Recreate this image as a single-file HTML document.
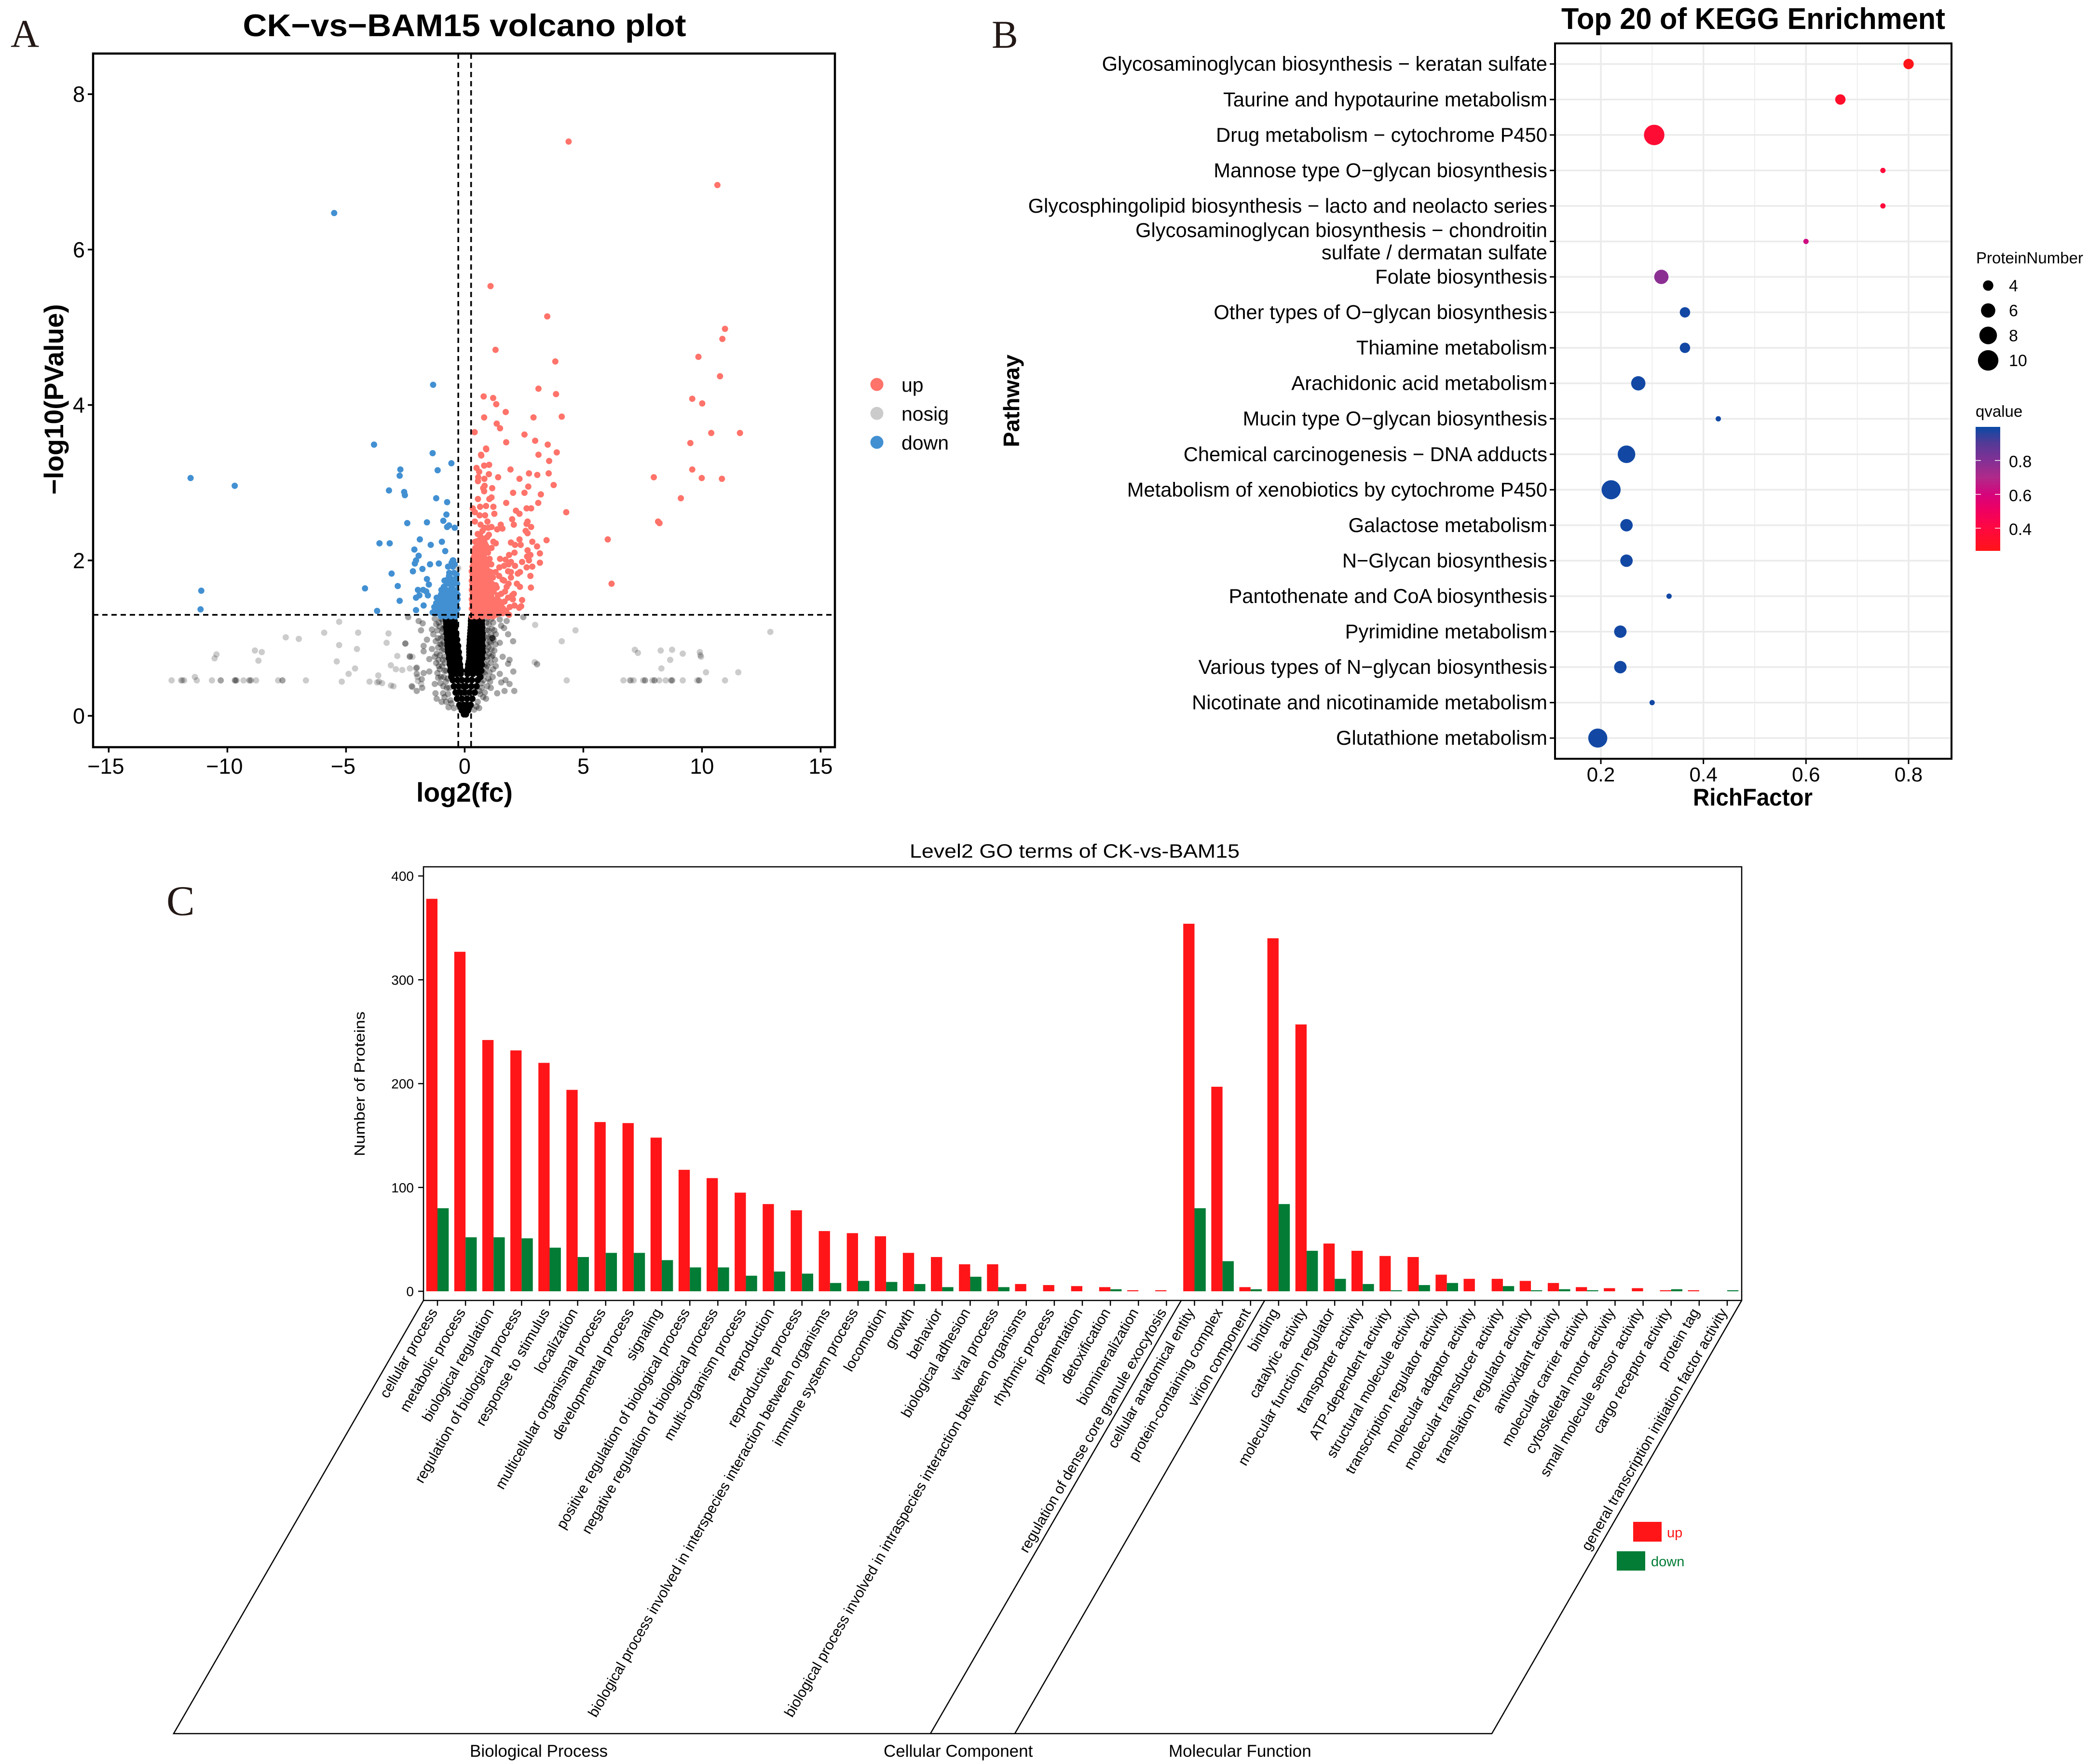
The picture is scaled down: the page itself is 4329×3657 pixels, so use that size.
<!DOCTYPE html>
<html>
<head>
<meta charset="utf-8">
<title>CK-vs-BAM15 figure</title>
<style>
html,body{margin:0;padding:0;background:#fff}
svg{display:block}
text{font-family:"Liberation Sans",sans-serif;fill:#000}
.serif{font-family:"Liberation Serif",serif;fill:#231815}
</style>
</head>
<body>
<svg id="fig" xmlns="http://www.w3.org/2000/svg" width="4329" height="3657" viewBox="0 0 4329 3657">
<defs>
<linearGradient id="qgrad" x1="0" y1="1" x2="0" y2="0">
<stop offset="0" stop-color="#ff1418"/><stop offset="0.18" stop-color="#ff0840"/><stop offset="0.32" stop-color="#f00060"/><stop offset="0.455" stop-color="#d6047c"/><stop offset="0.59" stop-color="#b02a8a"/><stop offset="0.73" stop-color="#823095"/><stop offset="0.865" stop-color="#553a96"/><stop offset="1" stop-color="#0a4aa5"/>
</linearGradient>
</defs>
<rect x="0" y="0" width="4329" height="3657" fill="#fff"/>

<text class="serif" x="22" y="97" font-size="82">A</text>
<text class="serif" x="2056" y="99" font-size="82">B</text>
<text class="serif" x="345" y="1897" font-size="88">C</text>

<g id="volcano">
<text x="963" y="75" font-size="65" font-weight="bold" text-anchor="middle" textLength="919" lengthAdjust="spacingAndGlyphs">CK−vs−BAM15 volcano plot</text>
<g id="vNosig"></g>
<g id="vUp"></g>
<g id="vDown"></g>
<g id="vThresh"></g>
<rect x="193" y="111" width="1538" height="1438" fill="none" stroke="#000" stroke-width="4.5"/>
<g id="vAxes"></g>
<text x="963" y="1662" font-size="56" font-weight="bold" text-anchor="middle" textLength="200" lengthAdjust="spacingAndGlyphs">log2(fc)</text>
<text transform="translate(131,828) rotate(-90)" font-size="56" font-weight="bold" text-anchor="middle" textLength="395" lengthAdjust="spacingAndGlyphs">−log10(PValue)</text>
<g id="vLegend"></g>
</g>

<g id="kegg">
<text x="3635" y="60" font-size="62" font-weight="bold" text-anchor="middle" textLength="796" lengthAdjust="spacingAndGlyphs">Top 20 of KEGG Enrichment</text>
<g id="kGrid"></g>
<g id="kPoints"></g>
<rect x="3224" y="90" width="822" height="1483" fill="none" stroke="#000" stroke-width="4"/>
<g id="kAxes"></g>
<text x="3634" y="1670" font-size="50" font-weight="bold" text-anchor="middle" textLength="248" lengthAdjust="spacingAndGlyphs">RichFactor</text>
<text transform="translate(2113,831) rotate(-90)" font-size="46" font-weight="bold" text-anchor="middle" textLength="192" lengthAdjust="spacingAndGlyphs">Pathway</text>
<text x="4097" y="546" font-size="33">ProteinNumber</text>
<g id="kSize"></g>
<text x="4096" y="864" font-size="33">qvalue</text>
<rect x="4096" y="885" width="51" height="257" fill="url(#qgrad)"/>
<g id="kColor"></g>
</g>

<g id="go">
<text x="2228" y="1778" font-size="40" text-anchor="middle" textLength="684" lengthAdjust="spacingAndGlyphs">Level2 GO terms of CK-vs-BAM15</text>
<g id="gBars"></g>
<rect x="878" y="1797" width="2733" height="899" fill="none" stroke="#000" stroke-width="2.5"/>
<g id="gAxes"></g>
<text transform="translate(756,2247) rotate(-90)" font-size="31" text-anchor="middle" textLength="300" lengthAdjust="spacingAndGlyphs">Number of Proteins</text>
<path d="M878 2696 L360 3594 L3093 3594 L3611 2696" fill="none" stroke="#000" stroke-width="2.5"/>
<path d="M2449 2696 L1929 3594" fill="none" stroke="#000" stroke-width="2.5"/>
<path d="M2622 2696 L2104 3594" fill="none" stroke="#000" stroke-width="2.5"/>
<text x="974" y="3642" font-size="35">Biological Process</text>
<text x="1832" y="3642" font-size="35">Cellular Component</text>
<text x="2423" y="3642" font-size="35">Molecular Function</text>
<rect x="3386" y="3155" width="59" height="41" fill="#ff1518"/>
<text x="3456" y="3187" font-size="29" style="fill:#ff1518">up</text>
<rect x="3352" y="3216" width="59" height="40" fill="#037c36"/>
<text x="3423" y="3247" font-size="29" style="fill:#037c36">down</text>
</g>
</svg>

<script>
// ---------- Volcano data (log2 fold change, -log10 p) ----------
const volcanoUp = [[4.38,7.39],[10.65,6.83],[1.09,5.53],[3.48,5.14],[10.97,4.98],[10.86,4.85],[1.3,4.71],[9.85,4.62],[3.82,4.56],[10.76,4.37],[3.11,4.21],[3.85,4.14],[.8,4.11],[1.2,4.09],[1.33,4.01],[9.59,4.08],[10.01,4.02],[1.73,3.91],[.82,3.84],[2.9,3.84],[4.09,3.85],[1.35,3.76],[1.49,3.7],[.42,3.65],[2.52,3.62],[10.39,3.64],[11.6,3.64],[1.75,3.52],[2.97,3.54],[3.5,3.49],[9.51,3.51],[.9,3.44],[3.88,3.39],[3.11,3.36],[.69,3.36],[3.56,3.28],[9.59,3.17],[7.97,3.07],[9.99,3.06],[10.84,3.05],[9.11,2.8],[8.15,2.5],[8.21,2.48],[6.03,2.27],[6.19,1.7],[4.28,2.62],
[.91,3.43],[.7,3.35],[.5,3.19],[.82,3.22],[1.03,3.23],[1.93,3.17],[2.71,3.12],[3.06,3.1],[3.54,3.12],[.61,3.14],[.57,3.07],[.56,3.02],[1.02,3.11],[.83,3.05],[1.41,3.07],[2.31,3.05],[3.75,2.97],[2.68,2.95],[1.16,2.93],[.84,2.96],[.78,2.93],[.82,2.89],[2.04,2.87],[2.52,2.87],[3.21,2.85],[1.13,2.81],[1.04,2.79],[.56,2.79],[1.75,2.74],[3.1,2.74],[1.21,2.69],[.9,2.7],[.65,2.69],[.34,2.67],[2.61,2.67],[2.8,2.67],[2.16,2.64],[2.31,2.6],[1.25,2.6],[.43,2.62],[.63,2.58],[.86,2.58],[2.0,2.53],[2.65,2.5],[.43,2.5],[.96,2.5],[2.61,2.47],[2.07,2.46],[2.8,2.43],[1.52,2.46],[1.59,2.41],[1.37,2.4],[1.13,2.43],[.84,2.42],[.67,2.46],[2.57,2.38],[2.65,2.35],[.55,2.34],[1.02,2.33],[.84,2.28],[2.31,2.27],[2.85,2.24],[3.45,2.26],[.44,2.24],[1.21,2.24],[1.31,2.22],[1.95,2.23],[2.12,2.2],[2.36,2.2],[3.05,2.18],[.9,2.19],[1.13,2.16],[.43,2.13],[2.65,2.13],[2.1,2.1],[3.17,2.09],[1.87,2.07],[2.63,2.05],[2.77,2.07],[1.49,2.02],[1.72,2.01],[1.95,1.98],[2.42,1.98],[2.71,2.0],[3.17,1.97],[2.12,1.93],[1.46,1.91],[2.85,1.92],[2.61,1.91],[1.66,1.93],[1.83,1.86],[2.33,1.85],[2.77,1.8],[1.19,1.78],[1.95,1.78],[1.66,1.74],[2.24,1.83],[2.33,1.66],[2.79,1.65],[1.31,1.68],[1.77,1.66],[2.07,1.57],[1.54,1.57],[2.42,1.49],[2.38,1.41],[2.3,1.39],[1.48,1.47],[1.83,1.52],[2.03,1.5],[1.54,1.43],[1.6,1.32],[1.87,1.3],[1.31,1.3],
[.35,1.32],[.5,1.32],[.65,1.32],[.8,1.32],[.95,1.32],[1.1,1.32],[1.25,1.32],[1.45,1.32],[.3,1.38],[.45,1.38],[.6,1.38],[.75,1.38],[.9,1.38],[1.05,1.38],[1.2,1.38],[1.35,1.38],[.32,1.44],[.48,1.44],[.62,1.44],[.78,1.44],[.92,1.44],[1.08,1.44],[1.25,1.44],[.3,1.5],[.45,1.5],[.6,1.5],[.75,1.5],[.9,1.5],[1.05,1.5],[1.2,1.5],[.33,1.56],[.48,1.56],[.62,1.56],[.78,1.56],[.92,1.56],[1.05,1.56],[.3,1.62],[.42,1.62],[.58,1.62],[.72,1.62],[.85,1.62],[1.0,1.62],[.32,1.68],[.48,1.68],[.62,1.68],[.78,1.68],[.9,1.68],[.3,1.74],[.45,1.74],[.6,1.74],[.75,1.74],[.9,1.74],[.33,1.8],[.48,1.8],[.62,1.8],[.78,1.8],[.92,1.8],[.3,1.86],[.45,1.86],[.6,1.86],[.75,1.86],[.88,1.86],[1.02,1.86],[.33,1.92],[.48,1.92],[.62,1.92],[.78,1.92],[.92,1.92],[.35,1.98],[.5,1.98],[.65,1.98],[.8,1.98],[.95,1.98],[.38,2.04],[.52,2.04],[.68,2.04],[.82,2.04],[.4,2.1],[.55,2.1],[.7,2.1],[.85,2.1],[.45,2.16],[.6,2.16],[.75,2.16],[.9,2.16],[.6,2.22],[.72,2.22],[.85,2.22],[.7,2.28],[.85,2.28],
[1.4,1.55],[1.55,1.45],[1.7,1.6],[1.85,1.7],[2,1.55],[1.75,1.35],[1.9,1.4],[1.6,1.75],[1.45,1.8],[1.3,1.85],[1.25,1.45],[1.35,1.65],[1.85,1.95],[2.2,1.7],[2.1,1.42],[1.95,1.85],[1.5,1.35],
[1.15,1.35],[1.3,1.42],[1.42,1.4],[1.62,1.38],[1.68,1.47],[1.15,1.46],[1.38,1.5],[1.12,1.56],[1.22,1.6],[1.15,1.7],[1.05,1.75],[1.1,1.64],[1.02,1.68],[1.0,1.82],[1.1,1.85],[1.12,1.95],[1.05,2.02],[.98,2.1],[1.0,1.28],[.75,1.28],[.5,1.28],[.3,1.28],[1.2,1.28],[.5,1.65],[.65,1.71],[.8,1.77],[.55,1.89],[.7,1.95],[.9,2.0],[.55,2.25],[.65,2.32],[.95,2.3],[.75,2.38],[1.0,2.42]];

const volcanoDown = [[-5.5,6.47],[-1.33,4.26],[-3.82,3.49],[-1.35,3.38],[-.56,3.25],[-2.71,3.17],[-1.14,3.16],[-2.74,3.09],[-11.55,3.06],[-9.69,2.96],[-3.19,2.9],[-2.55,2.88],[-2.52,2.84],[-1.2,2.8],[-.74,2.75],[-.77,2.59],[-.9,2.51],[-2.42,2.48],[-1.59,2.49],[-.66,2.45],[-.74,2.43],[-.42,2.42],[-3.59,2.22],[-3.16,2.22],[-1.89,2.27],[-1.43,2.2],[-.96,2.24],[-2.12,2.14],[-.82,2.12],[-1.94,2.06],[-2.05,2.0],[-2.1,1.96],[-1.46,1.95],[-1.09,1.96],[-2.18,1.86],[-3.08,1.83],[-1.78,1.89],[-.48,2.0],[-2.82,1.67],[-4.2,1.64],[-11.1,1.61],[-2.74,1.48],[-11.13,1.37],[-3.69,1.35],[-2.05,1.52],[-2.05,1.36],[-1.73,1.42],[-1.97,1.62],[-1.91,1.55],[-1.59,1.76],[-1.51,1.69],[-1.62,1.6],[-1.75,1.62],[-1.55,1.55],
[-1.25,1.32],[-1.1,1.32],[-.95,1.32],[-.8,1.32],[-.65,1.32],[-.5,1.32],[-.35,1.32],[-1.15,1.38],[-1.0,1.38],[-.85,1.38],[-.7,1.38],[-.55,1.38],[-.4,1.38],[-.3,1.38],[-.95,1.44],[-.8,1.44],[-.65,1.44],[-.5,1.44],[-.35,1.44],[-1.05,1.5],[-.9,1.5],[-.75,1.5],[-.6,1.5],[-.45,1.5],[-.3,1.5],[-.9,1.56],[-.78,1.56],[-.62,1.56],[-.48,1.56],[-.78,1.62],[-.6,1.62],[-.48,1.62],[-.35,1.62],[-.75,1.7],[-.6,1.7],[-.45,1.7],[-.7,1.76],[-.55,1.76],[-.4,1.76],[-.65,1.84],[-.45,1.84],[-.7,1.92],[-.5,1.92],[-.5,2.0],
[-1.35,1.33],[-1.28,1.4],[-1.2,1.45],[-1.1,1.44],[-1.18,1.52],[-1.0,1.56],[-.98,1.62],[-.88,1.66],[-.85,1.74],[-.58,1.28],[-.8,1.28],[-1.0,1.28],[-.38,1.28],[-.3,1.56],[-.32,1.7],[-.34,1.82],[-.55,1.97],[-.42,1.95],[-.6,1.45],[-.72,1.52],[-.55,1.66],[-.66,1.8]];

const volcanoNosigSparse = [[-12.35,.456],[-11.95,.456],[-11.9,.456],[-11.82,.456],[-11.29,.456],[-10.65,.456],[-10.28,.456],[-10.28,.456],[-9.69,.456],[-9.67,.456],[-9.65,.456],[-9.61,.456],[-9.32,.456],[-9.08,.456],[-9.05,.456],[-9.0,.456],[-8.79,.456],[-7.86,.456],[-7.68,.456],[-7.68,.456],[-6.69,.456],
[4.3,.456],[6.69,.456],[6.96,.456],[7.0,.456],[7.12,.456],[7.52,.456],[7.6,.456],[7.6,.456],[7.91,.456],[8.0,.456],[8.0,.456],[8.2,.456],[8.47,.456],[8.69,.456],[8.74,.456],[8.74,.456],[9.19,.456],[9.8,.456],[9.88,.456],[9.88,.456],[10.97,.456],
[-11.37,.5],[-10.54,.74],[-10.46,.79],[-8.84,.84],[-8.55,.82],[-8.69,.71],[-7.54,1.01],[-6.99,.99],[-5.92,1.07],[-5.29,1.21],[-4.49,1.07],[-5.29,.91],[-4.54,.86],[-5.39,.7],[-4.62,.61],[-4.89,.54],[-5.18,.44],[-4.01,.44],[-3.64,.52],[-3.61,.44],[-3.69,.43],[-3.48,.42],[-3.11,.39],[-3,.38],[-3.21,1.06],[-3.29,.94],[-2.5,.93],[-2.84,.77],[-2.31,.77],[-2.2,.76],[-3.11,.65],[-2.9,.6],[-2.63,.59],[-2.31,.61],[-2.05,.61],[-1.99,.5],[-1.97,.45],[-2.2,.37],[-1.83,.41],
[2.97,1.17],[4.67,1.1],[4.09,.96],[2.95,.69],[3.05,.67],[3.05,.66],[12.88,1.08],[7.17,.85],[7.3,.81],[8.26,.84],[8.74,.85],[9.19,.8],[9.91,.82],[9.93,.78],[9.96,.76],[8.66,.72],[8.29,.61],[10.17,.56],[11.53,.56],[-.27,1.9]];

const volcanoNosigHalo = [[-2.38,1.27],[-1.94,1.22],[-1.77,1.19],[-1.84,1.1],[-1.38,1.11],[-1.26,1.25],[-1.59,.98],[-1.32,1.05],[-1.13,1.0],[-2.5,.93],[-1.73,.9],[-1.38,.86],[-1.73,.83],[-2.31,.76],[-1.49,.73],[-1.26,.76],[-2.02,.62],[-1.09,.64],[-1.73,.55],[-1.49,.57],[-2.02,.54],[-1.12,.49],[-1.81,.47],[-1.26,.41],[-1.79,.36],[-2.23,.38],[-2.02,.32],[-1.23,.29],[-1.18,.22],[-.97,.18],[-.68,.11],[-.56,.16],[-.91,.29],[-.79,.44],[-1.03,.92],[-.85,1.14],[-1.09,1.2],
[1.13,1.25],[1.48,1.24],[1.77,1.22],[2.47,1.27],[1.83,1.05],[1.66,1.13],[1.54,1.16],[1.17,1.0],[1.17,1.0],[1.17,1.0],[2.04,.96],[1.48,.94],[1.31,1.05],[1.13,.86],[1.89,.72],[1.6,.76],[1.83,.67],[1.31,.64],[1.48,.54],[2.05,.57],[1.72,.46],[1.54,.43],[1.89,.41],[2.09,.32],[1.68,.32],[1.37,.29],[.9,.22],[.61,.1],[1.07,.44],[1.13,.76],[.96,.64],
[-1.0,1.25],[-1.05,1.15],[-.95,1.08],[-1.0,1.0],[-.98,.92],[-.95,.84],[-1.05,.78],[-.92,.72],[-.95,.64],[-.85,.58],[-.88,.5],[-.75,.36],[-.7,.28],[-.6,.2],[-.45,.1],
[.95,1.25],[1.02,1.18],[1.0,1.1],[.98,1.02],[1.05,.95],[1.0,.88],[1.02,.8],[.95,.72],[.9,.62],[.85,.54],[.8,.46],[.72,.36],[.65,.28],[.55,.18],[.4,.08],
[-1.2,1.18],[-1.15,1.1],[-1.22,.96],[-1.12,.88],[-1.18,.8],[-1.1,.72],[-1.2,.68],[-1.05,.6],[-1.15,.55],[-1.0,.5],[-1.02,.42],[-.9,.38],[-.85,.24],[-.78,.18],[-.92,1.22],[-.92,1.12],[-.9,1.02],[-.88,.94],[-.88,.86],[-.85,.76],[-.85,.68],[-.78,.58],[-.72,.48],[-.65,.36],
[1.2,1.2],[1.15,1.12],[1.25,1.1],[1.12,1.04],[1.22,.98],[1.3,.92],[1.1,.94],[1.25,.84],[1.18,.78],[1.28,.72],[1.1,.68],[1.2,.6],[1.05,.56],[1.18,.5],[1.0,.48],[1.1,.36],[.95,.38],[.85,.3],[.78,.24],[.92,1.2],[.92,1.1],[.92,1.0],[.92,.92],[.92,.84],[.92,.76],[.85,.66],[.8,.56],[.72,.42],[.62,.32],[.5,.12]];

const volcanoNosigCore = [[-.78,1.25],[-.6,1.25],[-.45,1.25],[.28,1.25],[.5,1.25],[.7,1.25],[-.77,1.18],[-.6,1.18],[-.44,1.18],[.27,1.18],[.5,1.18],[.72,1.18],[-.75,1.1],[-.58,1.1],[-.42,1.1],[.25,1.1],[.48,1.1],[.72,1.1],[-.73,1.02],[-.55,1.02],[-.38,1.02],[.23,1.02],[.48,1.02],[.73,1.02],[-.72,.94],[-.52,.94],[-.35,.94],[.22,.94],[.45,.94],[.72,.94],[-.7,.86],[-.5,.86],[-.3,.86],[.2,.86],[.45,.86],[.74,.86],[-.65,.78],[-.45,.78],[-.27,.78],[.2,.78],[.45,.78],[.72,.78],[-.62,.7],[-.42,.7],[-.24,.7],[.18,.7],[.42,.7],[.68,.7],[-.58,.62],[-.38,.62],[-.2,.62],[.15,.62],[.4,.62],[.65,.62],[-.55,.54],[-.35,.54],[-.17,.54],[.12,.54],[.35,.54],[.6,.54],[-.5,.46],[-.3,.46],[-.12,.46],[.1,.46],[.3,.46],[.55,.46],[-.45,.38],[-.25,.38],[-.05,.38],[.05,.38],[.28,.38],[.5,.38],[-.38,.3],[-.18,.3],[0,.3],[.2,.3],[.42,.3],[-.32,.22],[-.12,.22],[.1,.22],[.32,.22],[-.22,.14],[-.05,.14],[.1,.14],[.25,.14],[-.12,.07],[0,.07],[.14,.07],[-.03,.02],[.05,.02],
[-.56,.5],[.66,.5],[-.6,.58],[.7,.58],[-.62,.66],[.72,.66],[-.66,.74],[.74,.74],[-.7,.82],[.76,.82],[-.72,.9],[.75,.9],[-.74,.98],[.75,.98],[-.76,1.06],[.75,1.06],[-.78,1.14],[.74,1.14],[-.78,1.22],[.72,1.22],[-.78,1.28],[.7,1.28],[-.4,1.28],[-.6,1.28],[.3,1.28],[.5,1.28],
[-.5,.58],[-.35,.58],[-.15,.58],[.1,.58],[.35,.58],[.55,.58],[-.5,.66],[-.3,.66],[-.2,.66],[.15,.66],[.35,.66],[.55,.66],[-.55,.74],[-.35,.74],[-.22,.74],[.2,.74],[.4,.74],[.6,.74],[-.6,.82],[-.4,.82],[-.25,.82],[.2,.82],[.4,.82],[.6,.82],[-.6,.9],[-.42,.9],[-.28,.9],[.2,.9],[.42,.9],[.6,.9],[-.62,.98],[-.45,.98],[-.32,.98],[.22,.98],[.42,.98],[.6,.98],[-.65,1.06],[-.48,1.06],[-.36,1.06],[.24,1.06],[.45,1.06],[.6,1.06],[-.66,1.14],[-.5,1.14],[-.4,1.14],[.26,1.14],[.45,1.14],[.6,1.14],[-.66,1.22],[-.52,1.22],[-.43,1.22],[.27,1.22],[.45,1.22],[.6,1.22]];

const volcanoXTicks = [-15,-10,-5,0,5,10,15];
const volcanoYTicks = [0,2,4,6,8];
const volcanoFcCut = [-0.27,0.27];
const volcanoPCut = [1.3];
const volcanoLegend = ['up','nosig','down'];

// ---------- KEGG data ----------
const keggPathways = ['Glycosaminoglycan biosynthesis − keratan sulfate','Taurine and hypotaurine metabolism','Drug metabolism − cytochrome P450','Mannose type O−glycan biosynthesis','Glycosphingolipid biosynthesis − lacto and neolacto series','Glycosaminoglycan biosynthesis − chondroitin\nsulfate / dermatan sulfate','Folate biosynthesis','Other types of O−glycan biosynthesis','Thiamine metabolism','Arachidonic acid metabolism','Mucin type O−glycan biosynthesis','Chemical carcinogenesis − DNA adducts','Metabolism of xenobiotics by cytochrome P450','Galactose metabolism','N−Glycan biosynthesis','Pantothenate and CoA biosynthesis','Pyrimidine metabolism','Various types of N−glycan biosynthesis','Nicotinate and nicotinamide metabolism','Glutathione metabolism'];
const keggRich = [.8,.667,.304,.75,.75,.6,.318,.364,.364,.273,.429,.25,.22,.25,.25,.333,.238,.238,.3,.194];
const keggCount = [4,4,10,2,2,2,6,4,4,6,2,8,9,5,5,2,5,5,2,9];
const keggQ = [.27,.33,.36,.38,.38,.62,.78,.99,.99,.99,.99,.99,.99,.99,.99,.99,.99,.99,.99,.99];
const keggXTicks = [.2,.4,.6,.8];
const keggXMinor = [.3,.5,.7];
const keggSizeLegend = [4,6,8,10];
const keggQTicks = [.4,.6,.8];

// ---------- GO data ----------
const goTerms = ['cellular process','metabolic process','biological regulation','regulation of biological process','response to stimulus','localization','multicellular organismal process','developmental process','signaling','positive regulation of biological process','negative regulation of biological process','multi-organism process','reproduction','reproductive process','biological process involved in interspecies interaction between organisms','immune system process','locomotion','growth','behavior','biological adhesion','viral process','biological process involved in intraspecies interaction between organisms','rhythmic process','pigmentation','detoxification','biomineralization','regulation of dense core granule exocytosis','cellular anatomical entity','protein-containing complex','virion component','binding','catalytic activity','molecular function regulator','transporter activity','ATP-dependent activity','structural molecule activity','transcription regulator activity','molecular adaptor activity','molecular transducer activity','translation regulator activity','antioxidant activity','molecular carrier activity','cytoskeletal motor activity','small molecule sensor activity','cargo receptor activity','protein tag','general transcription initiation factor activity'];
const goUp = [378,327,242,232,220,194,163,162,148,117,109,95,84,78,58,56,53,37,33,26,26,7,6,5,4,1,1,354,197,4,340,257,46,39,34,33,16,12,12,10,8,4,3,3,1,1,0];
const goDown = [80,52,52,51,42,33,37,37,30,23,23,15,19,17,8,10,9,7,4,14,4,0,0,0,2,0,0,80,29,2,84,39,12,7,1,6,8,0,5,1,2,1,0,0,2,0,1];
const goYTicks = [0,100,200,300,400];

// ---------- Axis functions ----------
const NS = 'http://www.w3.org/2000/svg';
const vx = v => 963.4 + 49.2 * v;
const vy = v => 1484 - 161.1 * v;
const kx = v => 3319 + (v - 0.2) * 1063.3;
const ky = i => 132.7 + i * 73.55;
const kd = n => 11 + (Math.sqrt(n) - Math.SQRT2) * 18;
const qColors = [[.266,[255,20,24]],[.4,[255,8,64]],[.5,[240,0,96]],[.6,[214,4,124]],[.7,[176,42,138]],[.8,[130,48,149]],[.9,[85,58,150]],[1,[10,74,165]]];
const gx = i => 907 + 58.13 * i;
const gy = v => 2677 - 2.1525 * v;

function qColor(q){
  for(let i=1;i<qColors.length;i++){
    if(q<=qColors[i][0]){
      const a=qColors[i-1],b=qColors[i],t=Math.max(0,(q-a[0])/(b[0]-a[0]));
      return 'rgb('+a[1].map((c,j)=>Math.round(c+(b[1][j]-c)*t)).join(',')+')';
    }
  }
  return 'rgb(10,74,165)';
}
function mk(parent,tag,attrs,txt){
  const e=document.createElementNS(NS,tag);
  for(const k in attrs){e.setAttribute(k,attrs[k]);}
  if(txt!==undefined){e.textContent=txt;}
  parent.appendChild(e);
  return e;
}
const $ = id => document.getElementById(id);

// ---------- Volcano ----------
volcanoNosigSparse.forEach(p=>{
  const el=mk($('vNosig'),'circle',{cx:vx(p[0]),cy:vy(p[1]),r:6.5,fill:'#000','fill-opacity':.2});
  
  
});
volcanoNosigHalo.forEach(p=>{
  const el=mk($('vNosig'),'circle',{cx:vx(p[0]),cy:vy(p[1]),r:6.5,fill:'#000','fill-opacity':.35});
  
  
});
volcanoNosigCore.forEach(p=>{
  const el=mk($('vNosig'),'circle',{cx:vx(p[0]),cy:vy(p[1]),r:6.8,fill:'#000'});
  
  
});
volcanoUp.forEach(p=>{
  const el=mk($('vUp'),'circle',{cx:vx(p[0]),cy:vy(p[1]),r:6.5,fill:'#ff736a'});
  
  
});
volcanoDown.forEach(p=>{
  const el=mk($('vDown'),'circle',{cx:vx(p[0]),cy:vy(p[1]),r:6.5,fill:'#4290d2'});
  
  
});
volcanoFcCut.forEach(v=>{
  const el=mk($('vThresh'),'line',{x1:vx(v),x2:vx(v),y1:111,y2:1549,stroke:'#000','stroke-width':3.5,'stroke-dasharray':'11 8'});
  
  
});
volcanoPCut.forEach(v=>{
  const el=mk($('vThresh'),'line',{x1:193,x2:1731,y1:vy(v),y2:vy(v),stroke:'#000','stroke-width':3.5,'stroke-dasharray':'11 8'});
  
  
});
volcanoXTicks.forEach(v=>{
  const t=mk($('vAxes'),'line',{x1:vx(v),x2:vx(v),y1:1549,y2:1560,stroke:'#000','stroke-width':3.5});
  
  
  const l=mk($('vAxes'),'text',{x:vx(v)-(v<0?6:0),y:1604,'font-size':45,'text-anchor':'middle'},String(v).replace('-','−'));
  
  
});
volcanoYTicks.forEach(v=>{
  const t=mk($('vAxes'),'line',{x1:182,x2:193,y1:vy(v),y2:vy(v),stroke:'#000','stroke-width':3.5});
  
  
  const l=mk($('vAxes'),'text',{x:176,y:vy(v)+16,'font-size':45,'text-anchor':'end'},String(v));
  
  
});
volcanoLegend.forEach((name,i)=>{
  const colors=['#ff736a','#cbcbcb','#4290d2'];
  const y=797+i*60;
  const d=mk($('vLegend'),'circle',{cx:1818,cy:y,r:13.5,fill:colors[i]});
  
  
  const l=mk($('vLegend'),'text',{x:1869,y:y+15,'font-size':41},name);
  
  
});

// ---------- KEGG ----------
keggXMinor.forEach(v=>{
  const el=mk($('kGrid'),'line',{x1:kx(v),x2:kx(v),y1:90,y2:1573,stroke:'#efefef','stroke-width':2});
  
  
});
keggXTicks.forEach(v=>{
  const el=mk($('kGrid'),'line',{x1:kx(v),x2:kx(v),y1:90,y2:1573,stroke:'#ebebeb','stroke-width':3.5});
  
  
  const t=mk($('kAxes'),'line',{x1:kx(v),x2:kx(v),y1:1573,y2:1584,stroke:'#000','stroke-width':3});
  
  
  const l=mk($('kAxes'),'text',{x:kx(v),y:1620,'font-size':42,'text-anchor':'middle'},v.toFixed(1));
  
  
});
keggPathways.forEach((name,i)=>{
  const g=mk($('kGrid'),'line',{x1:3224,x2:4046,y1:ky(i),y2:ky(i),stroke:'#ebebeb','stroke-width':3.5});
  
  
  const t=mk($('kAxes'),'line',{x1:3213,x2:3224,y1:ky(i),y2:ky(i),stroke:'#000','stroke-width':3});
  
  
  const parts=name.split('\n');
  parts.forEach((s,j)=>{
    const y=parts.length>1?ky(i)-9+j*46:ky(i)+14;
    const l=mk($('kAxes'),'text',{x:3208,y:y,'font-size':41.7,'text-anchor':'end'},s);
    
    
  });
  const c=mk($('kPoints'),'circle',{cx:kx(keggRich[i]),cy:ky(i),r:kd(keggCount[i])/2,fill:qColor(keggQ[i])});
  
  
});
keggSizeLegend.forEach((n,i)=>{
  const y=592+i*51.7;
  const c=mk($('kSize'),'circle',{cx:4122,cy:y,r:kd(n)/2,fill:'#000'});
  
  
  const l=mk($('kSize'),'text',{x:4165,y:y+12,'font-size':34},String(n));
  
  
});
keggQTicks.forEach(q=>{
  const y=1095-(q-.4)*351;
  const a=mk($('kColor'),'line',{x1:4096,x2:4107,y1:y,y2:y,stroke:'#fff','stroke-width':1.5});
  
  
  const b=mk($('kColor'),'line',{x1:4136,x2:4147,y1:y,y2:y,stroke:'#fff','stroke-width':1.5});
  
  
  const l=mk($('kColor'),'text',{x:4165,y:y+14,'font-size':34},q.toFixed(1));
  
  
});

// ---------- GO ----------
goTerms.forEach((name,i)=>{
  const w=23.3;
  if(goUp[i]>0){
    const r=mk($('gBars'),'rect',{x:gx(i)-w,y:gy(goUp[i]),width:w,height:gy(0)-gy(goUp[i]),fill:'#ff1518'});
    
    
  }
  if(goDown[i]>0){
    const d=mk($('gBars'),'rect',{x:gx(i),y:gy(goDown[i]),width:w,height:gy(0)-gy(goDown[i]),fill:'#037c36'});
    
    
  }
  const t=mk($('gAxes'),'line',{x1:gx(i),x2:gx(i),y1:2696,y2:2707,stroke:'#000','stroke-width':2.5});
  
  
  const ax=gx(i)+1, ay=2720;
  const l=mk($('gAxes'),'text',{x:ax,y:ay,'font-size':30,'text-anchor':'end',transform:'rotate(-60 '+ax+' '+ay+')'},name);
  
  
});
goYTicks.forEach(v=>{
  const t=mk($('gAxes'),'line',{x1:867,x2:878,y1:gy(v),y2:gy(v),stroke:'#000','stroke-width':2.5});
  
  
  const l=mk($('gAxes'),'text',{x:858,y:gy(v)+10,'font-size':28,'text-anchor':'end'},String(v));
  
  
});
</script>
</body>
</html>
